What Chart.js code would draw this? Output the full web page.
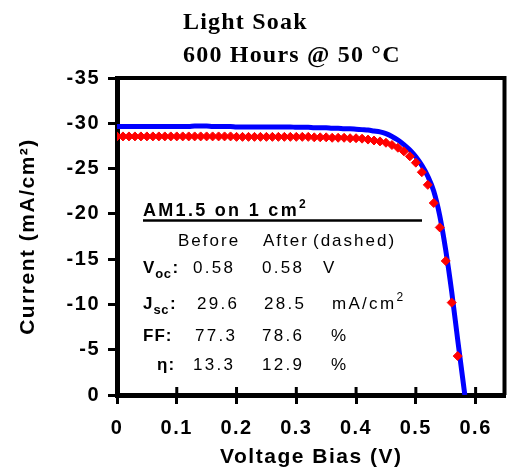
<!DOCTYPE html>
<html>
<head>
<meta charset="utf-8">
<script src="https://cdn.jsdelivr.net/npm/chart.js@4.4.1/dist/chart.umd.min.js"></script>
<style>
  html, body { margin: 0; padding: 0; background: #fff; }
  #wrap { width: 511px; height: 469px; }
</style>
</head>
<body>
<div id="wrap"><canvas id="ivChart"></canvas></div>
<script>
// after light soak (red diamonds), one point every 10 mV
const afterV = [0.00, 0.01, 0.02, 0.03, 0.04, 0.05, 0.06, 0.07, 0.08, 0.09,
                0.10, 0.11, 0.12, 0.13, 0.14, 0.15, 0.16, 0.17, 0.18, 0.19,
                0.20, 0.21, 0.22, 0.23, 0.24, 0.25, 0.26, 0.27, 0.28, 0.29,
                0.30, 0.31, 0.32, 0.33, 0.34, 0.35, 0.36, 0.37, 0.38, 0.39,
                0.40, 0.41, 0.42, 0.43, 0.44, 0.45, 0.46, 0.47, 0.48, 0.49,
                0.50, 0.51, 0.52, 0.53, 0.54, 0.55, 0.56, 0.57];
const afterJ = [-28.55, -28.55, -28.55, -28.55, -28.55, -28.55, -28.55, -28.55, -28.55, -28.55,
                -28.55, -28.55, -28.55, -28.55, -28.55, -28.55, -28.55, -28.55, -28.55, -28.55,
                -28.5, -28.5, -28.5, -28.5, -28.5, -28.5, -28.5, -28.5, -28.5, -28.5,
                -28.5, -28.5, -28.5, -28.45, -28.45, -28.45, -28.4, -28.4, -28.4, -28.35,
                -28.35, -28.3, -28.2, -28.1, -28.0, -27.85, -27.6, -27.3, -26.9, -26.35,
                -25.65, -24.6, -23.2, -21.2, -18.5, -14.8, -10.2, -4.3];

// before light soak (blue line)
const beforeV = [0.00, 0.01, 0.02, 0.03, 0.04, 0.05, 0.06, 0.07, 0.08, 0.09,
                 0.10, 0.11, 0.12, 0.13, 0.14, 0.15, 0.16, 0.17, 0.18, 0.19,
                 0.20, 0.21, 0.22, 0.23, 0.24, 0.25, 0.26, 0.27, 0.28, 0.29,
                 0.30, 0.31, 0.32, 0.33, 0.34, 0.35, 0.36, 0.37, 0.38, 0.39,
                 0.40, 0.41, 0.42, 0.43, 0.44, 0.45, 0.46, 0.47, 0.48, 0.49,
                 0.50, 0.51, 0.52, 0.53, 0.54, 0.55, 0.56, 0.57, 0.58, 0.582];
const beforeJ = [-29.65, -29.65, -29.65, -29.65, -29.65, -29.65, -29.65, -29.65, -29.65, -29.65,
                 -29.65, -29.65, -29.65, -29.7, -29.7, -29.7, -29.65, -29.65, -29.65, -29.65,
                 -29.6, -29.6, -29.6, -29.6, -29.6, -29.6, -29.6, -29.6, -29.6, -29.6,
                 -29.55, -29.55, -29.55, -29.5, -29.5, -29.5, -29.45, -29.45, -29.4, -29.4,
                 -29.35, -29.3, -29.25, -29.15, -29.05, -28.85, -28.55, -28.15, -27.65, -27.05,
                 -26.3, -25.35, -24.15, -22.5, -19.8, -16.0, -11.4, -6.1, -1.0, 0];

const xTicks = [0, 0.1, 0.2, 0.3, 0.4, 0.5, 0.6];
const yTicks = [-35, -30, -25, -20, -15, -10, -5, 0];

const titleLines = ['Light Soak', '600 Hours @ 50 °C'];
const tableTitle = 'AM1.5 on 1 cm';
const tableHead = ['Before', 'After', '(dashed)'];
const rowLabels = ['V', 'J', 'FF:', 'η:'];
const rowSubs = ['oc', 'sc', '', ''];
const beforeVals = ['0.58', '29.6', '77.3', '13.3'];
const afterVals = ['0.58', '28.5', '78.6', '12.9'];
const units = ['V', 'mA/cm', '%', '%'];

const SANS = '"Liberation Sans", Arial, sans-serif';

const spacing = {
  id: 'spacing',
  beforeDraw(chart) {
    chart.ctx.letterSpacing = '1.5px';
  }
};

const frame = {
  id: 'frame',
  afterDatasetsDraw(chart) {
    const { ctx, chartArea: a, scales } = chart;
    ctx.save();
    ctx.strokeStyle = '#000';
    ctx.lineWidth = 4;
    ctx.beginPath();
    ctx.moveTo(a.left, a.top);
    ctx.lineTo(a.right - 1, a.top);
    ctx.lineTo(a.right - 1, a.bottom);
    ctx.stroke();
    // x ticks cross the axis
    ctx.lineWidth = 3;
    xTicks.forEach(v => {
      const px = scales.x.getPixelForValue(v);
      ctx.beginPath();
      ctx.moveTo(px, a.bottom);
      ctx.lineTo(px, a.bottom - 8);
      ctx.stroke();
    });
    ctx.restore();
  }
};

const notes = {
  id: 'notes',
  afterDraw(chart) {
    const ctx = chart.ctx;
    ctx.save();
    ctx.fillStyle = '#000';
    ctx.textAlign = 'left';
    ctx.textBaseline = 'alphabetic';

    // title
    ctx.font = 'bold 24px "Liberation Serif", "Times New Roman", serif';
    ctx.letterSpacing = '1.2px';
    ctx.fillText(titleLines[0], 183, 29);
    ctx.fillText(titleLines[1], 183, 62);

    // table header
    ctx.font = 'bold 18px ' + SANS;
    ctx.letterSpacing = '2.3px';
    ctx.fillText(tableTitle, 143, 216);
    const tw = ctx.measureText(tableTitle).width;
    ctx.font = 'bold 12px ' + SANS;
    ctx.letterSpacing = '0px';
    ctx.fillText('2', 143 + tw, 208);
    ctx.lineWidth = 2.5;
    ctx.beginPath();
    ctx.moveTo(143, 220.5);
    ctx.lineTo(422, 220.5);
    ctx.stroke();

    ctx.font = '17px ' + SANS;
    ctx.letterSpacing = '2px';
    ctx.fillText(tableHead[0], 178, 246);
    ctx.fillText(tableHead[1], 263, 246);
    ctx.fillText(tableHead[2], 313, 246);

    const rowY = [273, 309, 341, 370];
    const labelX = [143, 143, 143, 157];
    const col1 = [193, 197, 195, 193];
    const col2 = [262, 264, 262, 262];
    const unitX = [323, 332, 331, 331];
    rowLabels.forEach((lab, i) => {
      const y = rowY[i];
      ctx.font = 'bold 17px ' + SANS;
      ctx.letterSpacing = '1px';
      ctx.fillText(lab, labelX[i], y);
      if (rowSubs[i]) {
        const lw = ctx.measureText(lab).width;
        ctx.font = 'bold 13px ' + SANS;
        ctx.letterSpacing = '0.5px';
        ctx.fillText(rowSubs[i], labelX[i] + lw, y + 5);
        const sw = ctx.measureText(rowSubs[i]).width;
        ctx.font = 'bold 17px ' + SANS;
        ctx.fillText(':', labelX[i] + lw + sw + 1, y);
      }
      ctx.font = '17px ' + SANS;
      ctx.letterSpacing = '2.3px';
      ctx.fillText(beforeVals[i], col1[i], y);
      ctx.fillText(afterVals[i], col2[i], y);
      ctx.fillText(units[i], unitX[i], y);
      if (units[i] === 'mA/cm') {
        const uw = ctx.measureText(units[i]).width;
        ctx.font = '12px ' + SANS;
        ctx.letterSpacing = '0px';
        ctx.fillText('2', unitX[i] + uw, y - 8);
      }
    });
    ctx.restore();
  }
};

const ctx = document.getElementById('ivChart').getContext('2d');
new Chart(ctx, {
  type: 'line',
  data: {
    datasets: [{
      label: 'After (dashed)',
      data: afterV.map((v, i) => ({ x: v, y: afterJ[i] })),
      showLine: false,
      pointStyle: 'rectRot',
      pointRadius: 4.5,
      pointBorderWidth: 1,
      pointBackgroundColor: '#ff0000',
      pointBorderColor: '#ff0000'
    }, {
      label: 'Before',
      data: beforeV.map((v, i) => ({ x: v, y: beforeJ[i] })),
      borderColor: '#0000ff',
      borderWidth: 5,
      pointRadius: 0,
      cubicInterpolationMode: 'monotone'
    }]
  },
  options: {
    responsive: true,
    maintainAspectRatio: false,
    animation: false,
    layout: { padding: { top: 78, right: 1, left: 0, bottom: 0 } },
    plugins: {
      legend: { display: false },
      tooltip: { enabled: false }
    },
    scales: {
      x: {
        type: 'linear',
        min: 0,
        max: 0.65,
        afterBuildTicks: s => { s.ticks = xTicks.map(v => ({ value: v })); },
        afterFit: s => { s.height = 74; },
        border: { color: '#000', width: 5 },
        grid: { drawOnChartArea: false, color: '#000', tickLength: 9, tickWidth: 3 },
        ticks: {
          color: '#000',
          padding: 12,
          font: { family: SANS, size: 20, weight: 'bold' },
          callback: v => v === 0 ? '0' : v.toFixed(1)
        },
        title: {
          display: true,
          text: 'Voltage Bias (V)',
          color: '#000',
          font: { family: SANS, size: 21, weight: 'bold', lineHeight: 1.1 },
          padding: { top: 0, bottom: 0 }
        }
      },
      y: {
        type: 'linear',
        min: -35,
        max: 0,
        reverse: true,
        afterBuildTicks: s => { s.ticks = yTicks.map(v => ({ value: v })); },
        afterFit: s => { s.width = 117; },
        border: { color: '#000', width: 5 },
        grid: { drawOnChartArea: false, color: '#000', tickLength: 9, tickWidth: 3 },
        ticks: {
          color: '#000',
          padding: 8,
          font: { family: SANS, size: 20, weight: 'bold' }
        },
        title: {
          display: true,
          text: 'Current (mA/cm²)',
          color: '#000',
          font: { family: SANS, size: 21, weight: 'bold', lineHeight: 1.2 },
          padding: { top: 16, bottom: 0 }
        }
      }
    }
  },
  plugins: [spacing, frame, notes]
});
</script>
</body>
</html>
